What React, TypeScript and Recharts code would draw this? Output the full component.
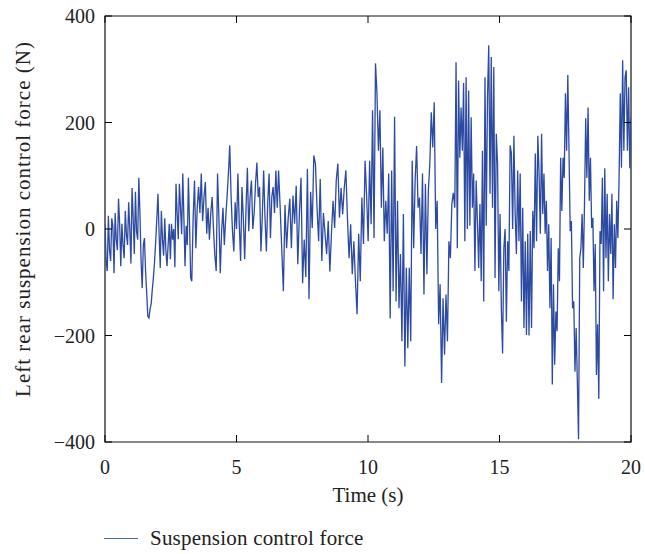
import React from 'react';
import { LineChart, Line, XAxis, YAxis, Legend, Label, ReferenceArea } from 'recharts';

// time boundaries (s) of the hand-read stretches below
const SEGMENT_BOUNDS = [0, 3.3, 6.6, 9.95, 13.3, 16.6, 20];

// control force (N)
const FORCE_0_3 = [
  9, -60, -79, 25, -40, -60, 20, 5, -83, 30,
  -20, -40, 57, 10, -70, 10, -30, -55, 34, -10,
  -30, 50, 0, -65, 77, 20, -47, 70, -5, -20,
  96, 30, -60, -111, -30, -17, -80, -120, -164, -167,
  -150, -140, -113, -90, -60, -23, 20, 66, -10, -73,
  34, -20, -50, 20, -40, -70, -30, 10, -57, 10,
  -20, 0, -72, 85, 30, -19, 85, 40, -10, 104,
  20, -70, 6, -30, 96, 10, -92,
];
const FORCE_3_7 = [
  -98, 20, 91, -36, 40, 79, 30, 104, 15, 60,
  88, -9, 40, -20, 30, 60, 0, -50, -79, 104,
  20, -83, -4, 40, -30, 20, 60, 104, 157, 60,
  -4, -42, 50, 0, 104, 10, -60, 79, 20, -57,
  40, 115, -4, 60, 91, 0, 30, 85, 125, 60,
  79, -42, 25, 110, 20, -42, 50, 104, -17, 60,
  79, 30, 110, 40,
];
const FORCE_7_10 = [
  110, 40, -40, -117, 45, -36, 20, 57, -36, 63,
  10, 81, -66, 30, 96, -102, -20, -90, 113, -132,
  70, 2, 138, 123, 40, -23, 94, -60, 30, -9,
  -47, 15, -80, -9, 53, 2, 91, 123, 21, 77,
  28, 77, 110, 20, -55, 9, -85, -23, -98, -160,
  -9, -98, 59, -28, 128,
];
const FORCE_10_13 = [
  59, -23, 128, 9, 223, -17, 311, 255, 147, 223,
  40, 153, -23, 53, -9, 104, -168, 110, -117, 211,
  -136, 53, -149, -47, -211, 28, -258, -73, -224, -73,
  -211, 128, -36, 91, 156, 40, 59, -47, 104, -123,
  85, -85, 72, 123, 219, 153, 238, 0, 53, -179,
  -104, -289, -130, -236, -123, -211, -23, -55, 47, 68,
];
const FORCE_13_17 = [
  40, 313, -36, 279, 134, 228, 147, 274, -23, 285,
  0, 260, 6, 210, 40, 104, -79, 91, 15, -73,
  47, -98, 147, -136, 285, 6, 247, 345, 66, 323,
  40, 304, -92, 179, 123, -117, 28, -149, -234, -36,
  0, -174, -23, -79, 157, 142, 0, 175, 28, -47,
  110, -23, 104, -136, 40, -186, -23, -199, -9, -200,
  -4, -186, 34, -36, 142, -23, 175, 104, -9,
];
const FORCE_17_20 = [
  179, 28, 104, -9, 53, -79, 9, -149, -17, -292,
  -104, -255, -155, -192, -36, -98, 134, 34, 134, 96,
  255, 147, 289, 147, -4, 15, -149, -136, -268, -186,
  -287, -395, -55, -36, 28, -73, 47, 208, 96, 228,
  53, 134, 2, 21, -117, -28, -274, -179, -319, -4,
  -28, 96, -117, 114, -55, 66, -98, 28, -47, 66,
  -132, 9, -73, 53, -17, 96, 255, 115, 317, 147,
  285, 298, 147, 266, 114, 209,
];

const SEGMENTS = [FORCE_0_3, FORCE_3_7, FORCE_7_10, FORCE_10_13, FORCE_13_17, FORCE_17_20];

const X_TICKS = [0, 5, 10, 15, 20];
const Y_TICKS = [-400, -200, 0, 200, 400];

const SERIES_NAME = 'Suspension control force';
const X_LABEL = 'Time (s)';
const Y_LABEL = 'Left rear suspension control force (N)';

const FONT = '"Liberation Serif", "Times New Roman", serif';
const LINE_COLOR = '#2c4aa2';
const TICK_LEN = 7;

// spread each stretch evenly over its time span (uniform sampling)
const chartData = SEGMENTS.flatMap((seg, s) => {
  const t0 = SEGMENT_BOUNDS[s];
  const t1 = SEGMENT_BOUNDS[s + 1];
  const last = s === SEGMENTS.length - 1;
  const step = (t1 - t0) / (last ? seg.length - 1 : seg.length);
  return seg.map((v, i) => ({ t: t0 + i * step, force: v }));
});

function fmtNum(v: number): string {
  return v < 0 ? `\u2212${Math.abs(v)}` : String(v);
}

function LeftTick(props: any) {
  const { x, y, payload } = props;
  return (
    <g>
      <line x1={x} y1={y} x2={x + TICK_LEN} y2={y} stroke="#000" />
      <text x={x - 10} y={y} dy="0.35em" textAnchor="end" fill="#222" fontSize={20} fontFamily={FONT}>
        {fmtNum(payload.value)}
      </text>
    </g>
  );
}

function BottomTick(props: any) {
  const { x, y, payload } = props;
  return (
    <g>
      <line x1={x} y1={y} x2={x} y2={y - TICK_LEN} stroke="#000" />
      <text x={x} y={y + 18} dy="0.71em" textAnchor="middle" fill="#222" fontSize={20} fontFamily={FONT}>
        {fmtNum(payload.value)}
      </text>
    </g>
  );
}

function RightTick(props: any) {
  const { x, y } = props;
  return <line x1={x} y1={y} x2={x - TICK_LEN} y2={y} stroke="#000" />;
}

function TopTick(props: any) {
  const { x, y } = props;
  return <line x1={x} y1={y} x2={x} y2={y + TICK_LEN} stroke="#000" />;
}

function XTitle(props: any) {
  const { viewBox } = props;
  return (
    <text x={viewBox.x + viewBox.width / 2} y={viewBox.y + 60} textAnchor="middle" fill="#222" fontSize={21} fontFamily={FONT}>
      {X_LABEL}
    </text>
  );
}

function YTitle(props: any) {
  const { viewBox } = props;
  const cx = viewBox.x + 22;
  const cy = viewBox.y + viewBox.height / 2 - 10;
  return (
    <text x={cx} y={cy} transform={`rotate(-90 ${cx} ${cy})`} textAnchor="middle" fill="#222"
      fontSize={21} letterSpacing={1} fontFamily={FONT}>
      {Y_LABEL}
    </text>
  );
}

function LegendBox() {
  return (
    <div style={{ display: 'flex', alignItems: 'center', height: 20, paddingLeft: 96, fontFamily: FONT, fontSize: 21, color: '#222' }}>
      <svg width={34} height={20} style={{ marginRight: 12 }}>
        <line x1={0} y1={10.5} x2={34} y2={10.5} stroke="#4a66b5" strokeWidth={1.2} />
      </svg>
      <span style={{ letterSpacing: 0.2, whiteSpace: 'nowrap' }}>{SERIES_NAME}</span>
    </div>
  );
}

export default function App(): React.ReactElement {
  return (
    <div style={{ width: 637 }}>
      <style>{'body { margin: 8px 0 8px 8px; } #root { width: 637px; } svg.recharts-surface, .recharts-wrapper { overflow: visible !important; }'}</style>
      <LineChart
        width={637}
        height={546}
        data={chartData}
        margin={{ top: 7, right: 13, bottom: 6, left: 0 }}
      >
        <XAxis
          dataKey="t"
          type="number"
          domain={[0, 20]}
          ticks={X_TICKS}
          allowDataOverflow
          height={86}
          tickSize={0}
          tickMargin={0}
          tickLine={false}
          axisLine={false}
          tick={<BottomTick />}
          interval={0}
        >
          <Label content={<XTitle />} />
        </XAxis>
        <XAxis
          xAxisId="top"
          orientation="top"
          dataKey="t"
          type="number"
          domain={[0, 20]}
          ticks={X_TICKS}
          allowDataOverflow
          height={1}
          tickSize={0}
          tickMargin={0}
          tickLine={false}
          axisLine={false}
          tick={<TopTick />}
          interval={0}
        />
        <YAxis
          type="number"
          domain={[-400, 400]}
          ticks={Y_TICKS}
          allowDataOverflow
          width={97}
          tickSize={0}
          tickMargin={0}
          tickLine={false}
          axisLine={false}
          tick={<LeftTick />}
          interval={0}
        >
          <Label content={<YTitle />} />
        </YAxis>
        <YAxis
          yAxisId="right"
          orientation="right"
          dataKey="force"
          type="number"
          domain={[-400, 400]}
          ticks={Y_TICKS}
          allowDataOverflow
          width={1}
          tickSize={0}
          tickMargin={0}
          tickLine={false}
          axisLine={false}
          tick={<RightTick />}
          interval={0}
        />
        <Legend verticalAlign="bottom" align="left" content={<LegendBox />} wrapperStyle={{ left: 0, bottom: 6, height: 20 }} />
        <Line
          type="linear"
          dataKey="force"
          name={SERIES_NAME}
          stroke={LINE_COLOR}
          strokeWidth={1.3}
          dot={false}
          isAnimationActive={false}
        />
        {/* box frame round the plot area */}
        <ReferenceArea
          x1={X_TICKS[0]}
          x2={X_TICKS[X_TICKS.length - 1]}
          y1={Y_TICKS[0]}
          y2={Y_TICKS[Y_TICKS.length - 1]}
          fill="none"
          stroke="#111"
          strokeWidth={1.2}
          ifOverflow="visible"
        />
      </LineChart>
    </div>
  );
}
